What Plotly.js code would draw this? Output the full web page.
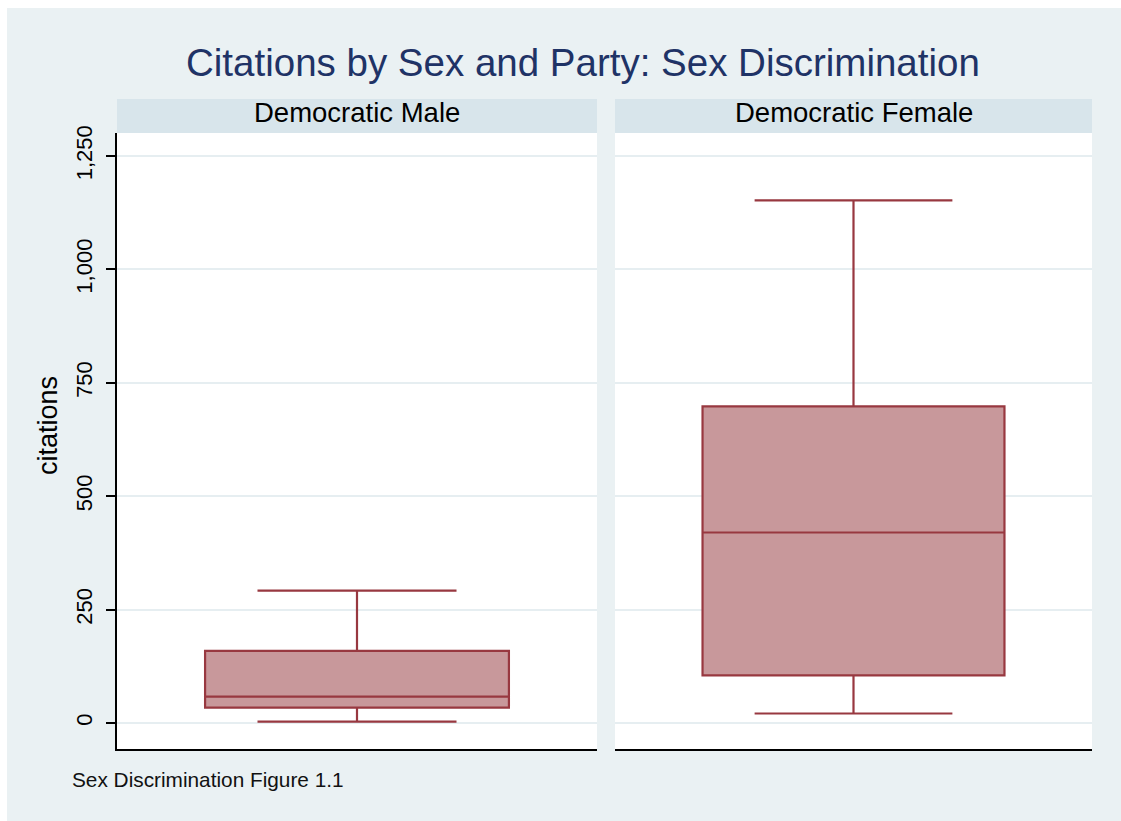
<!DOCTYPE html>
<html>
<head>
<meta charset="utf-8">
<script src="https://cdn.plot.ly/plotly-3.0.1.min.js"></script>
<style>
  html, body { margin: 0; padding: 0; background: #ffffff; }
  #chart { position: absolute; left: 7px; top: 8px; width: 1114px; height: 813px; }
</style>
</head>
<body>
<div id="chart"></div>
<script>
// ---- data ----
const panels = ["Democratic Male", "Democratic Female"];
const lowerWhisker = [3, 21];
const q1Values = [34, 105];
const medianValues = [58, 420];
const q3Values = [159, 698];
const upperWhisker = [292, 1152];
const yTickValues = [0, 250, 500, 750, 1000, 1250];
const titleText = "Citations by Sex and Party: Sex Discrimination";
const yTitleText = "citations";
const noteText = "Sex Discrimination Figure 1.1";

// ---- geometry (figure is 1114 x 813) ----
const W = 1114, H = 813;
const px = v => v / W;
const py = v => 1 - v / H;

const boxFill = "#c8989b";
const boxLine = "#983840";
const bg = "#eaf1f3";
const stripColor = "#d8e5eb";
const gridColor = "#e6eef1";

const xDomains = [[px(110), px(590)], [px(608), px(1085)]];
const yRange = [-57.3, 1300.7];

const traces = panels.map((p, i) => ({
  type: "box",
  x: [p],
  q1: [q1Values[i]],
  median: [medianValues[i]],
  q3: [q3Values[i]],
  lowerfence: [lowerWhisker[i]],
  upperfence: [upperWhisker[i]],
  boxpoints: false,
  width: 0.633,
  whiskerwidth: 0.655,
  fillcolor: boxFill,
  line: { color: boxLine, width: 2.2 },
  xaxis: i === 0 ? "x" : "x2",
  yaxis: i === 0 ? "y" : "y2",
  hoverinfo: "skip",
  showlegend: false
}));

const xAxisBase = {
  range: [-0.5, 0.5],
  showticklabels: false,
  ticks: "",
  showgrid: false,
  zeroline: false,
  showline: true,
  linecolor: "#000000",
  linewidth: 2,
  fixedrange: true
};

const layout = {
  width: W,
  height: H,
  margin: { l: 0, r: 0, t: 0, b: 0 },
  paper_bgcolor: bg,
  plot_bgcolor: "#ffffff",
  font: { family: "Liberation Sans, Arial, sans-serif", color: "#000000" },
  xaxis: Object.assign({}, xAxisBase, { domain: xDomains[0], anchor: "y" }),
  xaxis2: Object.assign({}, xAxisBase, { domain: xDomains[1], anchor: "y2" }),
  yaxis: {
    domain: [py(741), py(125)],
    range: yRange,
    anchor: "x",
    tickvals: yTickValues,
    tickformat: ",d",
    tickangle: -90,
    tickfont: { size: 22, color: "#000000" },
    ticks: "outside",
    ticklen: 9,
    tickwidth: 2,
    tickcolor: "#000000",
    ticklabelstandoff: 5,
    showline: true,
    linecolor: "#000000",
    linewidth: 2,
    showgrid: true,
    gridcolor: gridColor,
    gridwidth: 2,
    zeroline: false,
    fixedrange: true
  },
  yaxis2: {
    domain: [py(741), py(125)],
    range: yRange,
    anchor: "x2",
    tickvals: yTickValues,
    showticklabels: false,
    ticks: "",
    showline: false,
    showgrid: true,
    gridcolor: gridColor,
    gridwidth: 2,
    zeroline: false,
    fixedrange: true
  },
  shapes: xDomains.map(d => ({
    type: "rect", xref: "paper", yref: "paper",
    x0: d[0], x1: d[1], y0: py(125), y1: py(91),
    fillcolor: stripColor, line: { width: 0 }, layer: "below"
  })),
  annotations: [
    {
      text: titleText, xref: "paper", yref: "paper",
      x: px(576), y: py(55), xanchor: "center", yanchor: "middle",
      showarrow: false,
      font: { size: 38.5, color: "#1f3366", family: "Liberation Sans, Arial, sans-serif" }
    },
    {
      text: panels[0], xref: "paper", yref: "paper",
      x: (xDomains[0][0] + xDomains[0][1]) / 2, y: py(104),
      xanchor: "center", yanchor: "middle", showarrow: false,
      font: { size: 27.5, color: "#000000" }
    },
    {
      text: panels[1], xref: "paper", yref: "paper",
      x: (xDomains[1][0] + xDomains[1][1]) / 2, y: py(104),
      xanchor: "center", yanchor: "middle", showarrow: false,
      font: { size: 27.5, color: "#000000" }
    },
    {
      text: yTitleText, xref: "paper", yref: "paper",
      x: px(41), y: py(418), xanchor: "center", yanchor: "middle",
      textangle: -90, showarrow: false,
      font: { size: 27, color: "#000000" }
    },
    {
      text: noteText, xref: "paper", yref: "paper",
      x: px(63), y: py(771), xanchor: "left", yanchor: "middle",
      showarrow: false,
      font: { size: 20.8, color: "#111111" }
    }
  ]
};

Plotly.newPlot("chart", traces, layout, { displayModeBar: false, staticPlot: true });
</script>
</body>
</html>
